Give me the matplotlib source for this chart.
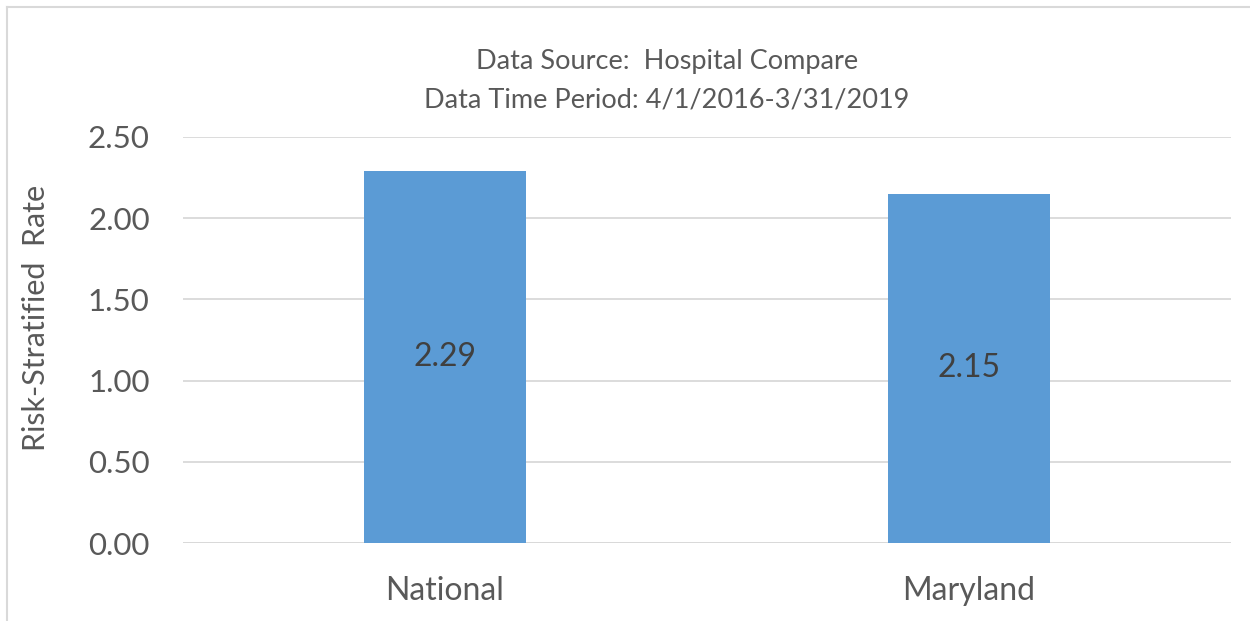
import matplotlib
matplotlib.use("Agg")
import matplotlib.pyplot as plt
from matplotlib.lines import Line2D

categories = ["National", "Maryland"]
values = [2.29, 2.15]
yticks = [0.0, 0.5, 1.0, 1.5, 2.0, 2.5]
title_lines = ["Data Source:  Hospital Compare", "Data Time Period: 4/1/2016-3/31/2019"]
ylabel = "Risk-Stratified  Rate"

plt.rcParams['font.family'] = ['Lato', 'DejaVu Sans']
txt = '#595959'
bar_color = '#5B9BD5'

fig = plt.figure(figsize=(12.5, 6.21), dpi=100)
ax = fig.add_axes([0.1464, 0.1256, 0.8384, 0.6538])

x = list(range(len(categories)))
bars = ax.bar(x, values, width=0.311, color=bar_color, zorder=3)
ax.set_xlim(-0.5, len(categories) - 0.5)
ax.set_ylim(0, 2.5)
ax.set_yticks(yticks)
ax.set_yticklabels([f"{v:.2f}" for v in yticks], fontsize=22.5, color=txt)
ax.set_xticks(x)
ax.set_xticklabels(categories, fontsize=23, color=txt)
ax.tick_params(length=0, axis='y', pad=24)
ax.tick_params(length=0, axis='x', pad=24)
ax.grid(axis='y', color='#d9d9d9', linewidth=1.3, zorder=0)
for s in ax.spines.values():
    s.set_visible(False)
ax.axhline(0, color='#d9d9d9', linewidth=1.3, zorder=1)

for b, v in zip(bars, values):
    ax.text(b.get_x() + b.get_width() / 2, v / 2, f"{v:.2f}", ha='center', va='center',
            fontsize=23, color='#404040', zorder=4)

ax.set_ylabel(ylabel, fontsize=22, color=txt)
ax.yaxis.set_label_coords(-0.127, 0.554)

fig.text(0.5335, 1 - 61 / 621, title_lines[0], ha='center', va='center', fontsize=19.5, color=txt)
fig.text(0.5335, 1 - 100 / 621, title_lines[1], ha='center', va='center', fontsize=19.5, color=txt)

# chart border (left and top visible)
fig.add_artist(Line2D([7 / 1250, 7 / 1250], [0, 1 - 7 / 621], transform=fig.transFigure, color='#d9d9d9', linewidth=1.5))
fig.add_artist(Line2D([7 / 1250, 1], [1 - 7 / 621, 1 - 7 / 621], transform=fig.transFigure, color='#d9d9d9', linewidth=1.5))

fig.savefig("out.png", dpi=100, facecolor='white')
